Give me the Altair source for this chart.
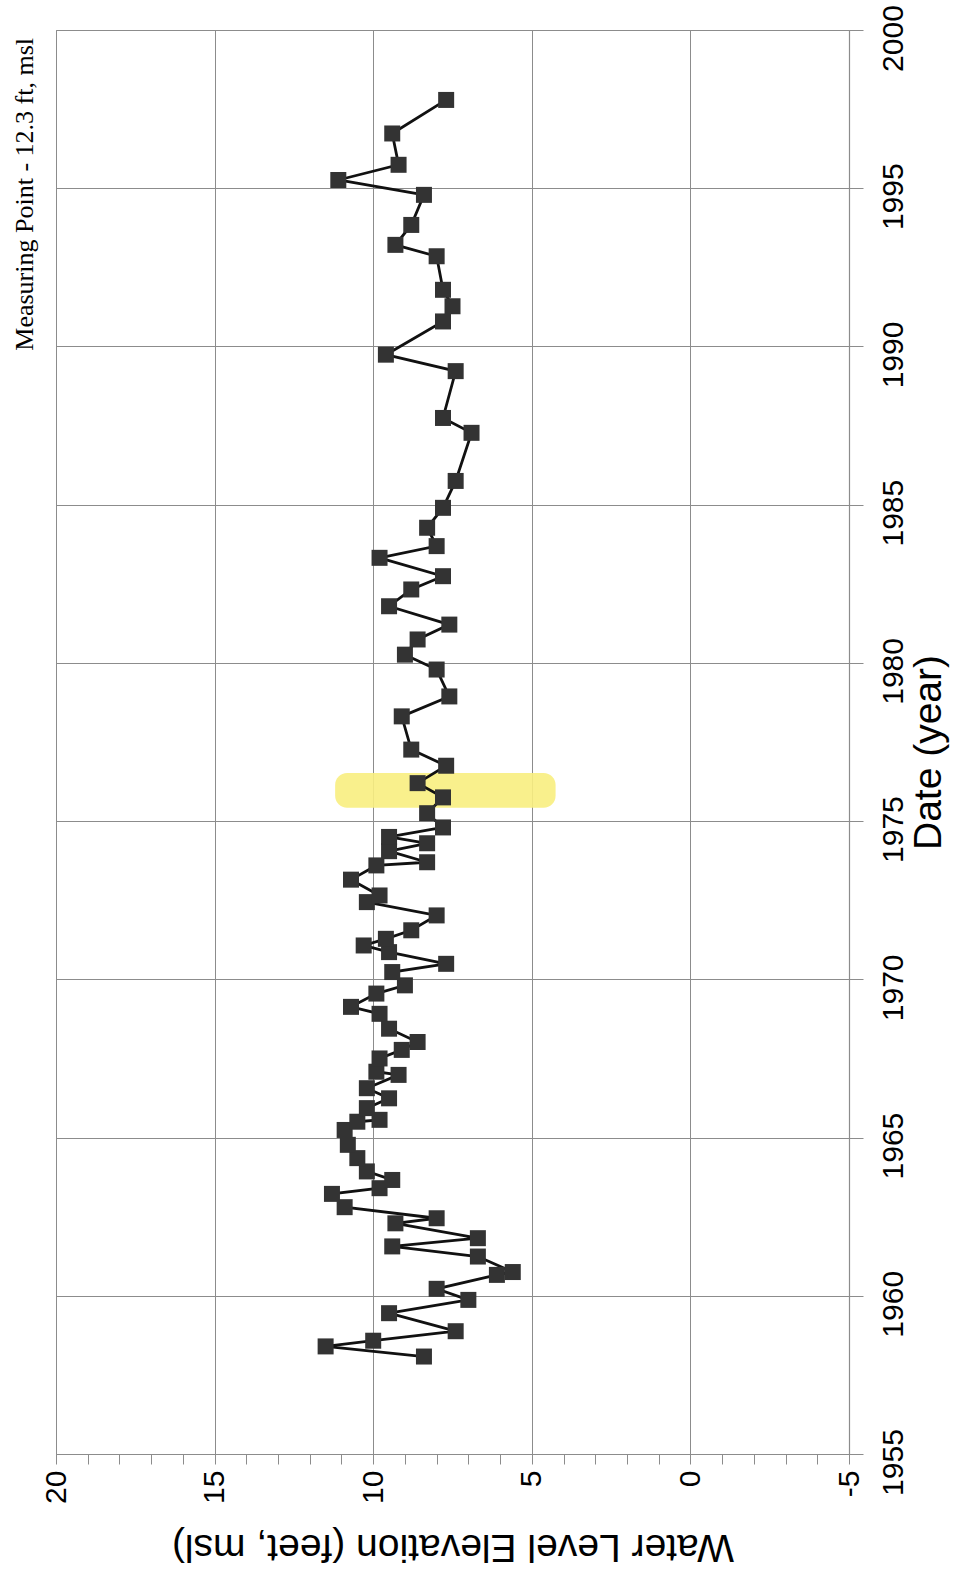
import altair as alt
import pandas as pd

# Water level observations (decimal year, elevation in feet msl)
years = [
    1958.08, 1958.40, 1958.58, 1958.88, 1959.45, 1959.87, 1960.22, 1960.66,
    1960.75, 1961.24, 1961.56, 1961.82, 1962.29, 1962.45, 1962.80, 1963.22,
    1963.40, 1963.66, 1963.93, 1964.35, 1964.77, 1965.24, 1965.50, 1965.56,
    1965.93, 1966.24, 1966.56, 1966.98, 1967.08, 1967.50, 1967.77, 1968.02,
    1968.44, 1968.91, 1969.13, 1969.55, 1969.81, 1970.23, 1970.49, 1970.86,
    1971.07, 1971.28, 1971.55, 1972.02, 1972.44, 1972.65, 1973.15, 1973.60,
    1973.70, 1974.05, 1974.30, 1974.50, 1974.80, 1975.25, 1975.75, 1976.20,
    1976.75, 1977.26, 1978.31, 1978.94, 1979.79, 1980.26, 1980.74, 1981.21,
    1981.79, 1982.32, 1982.74, 1983.32, 1983.69, 1984.27, 1984.90, 1985.75,
    1987.27, 1987.74, 1989.22, 1989.74, 1990.79, 1991.27, 1991.79, 1992.85,
    1993.21, 1993.84, 1994.79, 1995.26, 1995.74, 1996.73, 1997.79,
]
levels = [
    8.4, 11.5, 10.0, 7.4, 9.5, 7.0, 8.0, 6.1,
    5.6, 6.7, 9.4, 6.7, 9.3, 8.0, 10.9, 11.3,
    9.8, 9.4, 10.2, 10.5, 10.8, 10.9, 10.5, 9.8,
    10.2, 9.5, 10.2, 9.2, 9.9, 9.8, 9.1, 8.6,
    9.5, 9.8, 10.7, 9.9, 9.0, 9.4, 7.7, 9.5,
    10.3, 9.6, 8.8, 8.0, 10.2, 9.8, 10.7, 9.9,
    8.3, 9.5, 8.3, 9.5, 7.8, 8.3, 7.8, 8.6,
    7.7, 8.8, 9.1, 7.6, 8.0, 9.0, 8.6, 7.6,
    9.5, 8.8, 7.8, 9.8, 8.0, 8.3, 7.8, 7.4,
    6.9, 7.8, 7.4, 9.6, 7.8, 7.5, 7.8, 8.0,
    9.3, 8.8, 8.4, 11.1, 9.2, 9.4, 7.7,
]

# Axis tick positions
level_ticks = list(range(-5, 21))          # every foot, labelled every 5
year_ticks = list(range(1955, 2001, 5))

# Highlighter band across the 1976 reading
highlight_level = [11.2, 4.25]
highlight_year = [1975.42, 1976.52]

note = "Measuring Point - 12.3 ft, msl"

obs = pd.DataFrame({"year": years, "level": levels})
band = pd.DataFrame({
    "level": [highlight_level[0]], "level_end": [highlight_level[1]],
    "year": [highlight_year[0]], "year_end": [highlight_year[1]],
})
note_df = pd.DataFrame({"text": [note]})

GRID = "#8c8c8c"
SANS = "Liberation Sans"

x_scale = alt.Scale(domain=[-5, 20], reverse=True, nice=False, zero=False)
y_scale = alt.Scale(domain=[1955, 2000], nice=False, zero=False)

x_axis = alt.Axis(
    values=level_ticks,
    title="Water Level Elevation (feet, msl)",
    labelExpr="datum.value % 5 === 0 ? '' + datum.value : ''",
    labelAngle=270, labelAlign="right", labelBaseline="middle",
    labelPadding=6, labelFontSize=30, labelFont=SANS, labelColor="black",
    labelOverlap=False, labelFlush=False,
    tickSize=10, tickColor=GRID, tickWidth=1,
    domainColor=GRID, domainWidth=1.2,
    grid=True, gridColor=GRID, gridWidth=1,
    gridOpacity={"condition": {"test": "datum.value % 5 === 0", "value": 1}, "value": 0},
    titleAngle=180, titleY=92, titleBaseline="middle", titleAlign="center",
    titleFontSize=39, titleFontWeight="normal", titleFont=SANS, titleColor="black",
)

y_axis = alt.Axis(
    values=year_ticks, orient="right", format="d",
    title="Date (year)",
    labelAngle=270, labelAlign="center", labelBaseline="top",
    labelPadding=15, labelOffset=8,
    labelFontSize=30, labelFont=SANS, labelColor="black",
    labelOverlap=False, labelFlush=False,
    tickSize=14, tickColor=GRID, tickWidth=1,
    domainColor=GRID, domainWidth=1.2,
    grid=True, gridColor=GRID, gridWidth=1,
    titleAngle=270, titleAlign="center", titleBaseline="alphabetic",
    titleX=91, titleY=722,
    titleFontSize=39, titleFontWeight="normal", titleFont=SANS, titleColor="black",
)

X = alt.X("level:Q", scale=x_scale, axis=x_axis)
Y = alt.Y("year:Q", scale=y_scale, axis=y_axis)

highlight = alt.Chart(band).mark_rect(
    color="#f8ee80", opacity=0.9, cornerRadius=12
).encode(x=X, x2="level_end:Q", y=Y, y2="year_end:Q")

trace = alt.Chart(obs).mark_line(
    color="#111111", strokeWidth=2.8
).encode(x=X, y=Y, order="year:Q")

markers = alt.Chart(obs).mark_point(
    shape="square", filled=True, size=256, color="#333333", opacity=1
).encode(x=X, y=Y)

caption = alt.Chart(note_df).mark_text(
    angle=270, align="right", baseline="alphabetic",
    font="Liberation Serif", fontSize=26, color="black"
).encode(text="text:N", x=alt.value(-23), y=alt.value(8))

chart = alt.layer(highlight, trace, markers, caption).properties(
    width=793,
    height=1424,
    autosize=alt.AutoSizeParams(type="none"),
    padding={"left": 56, "top": 30, "right": 104, "bottom": 123},
    background="white",
).configure_view(stroke=GRID, strokeWidth=1)

chart.save("out.html", embed_options={"renderer": "svg", "actions": False})
